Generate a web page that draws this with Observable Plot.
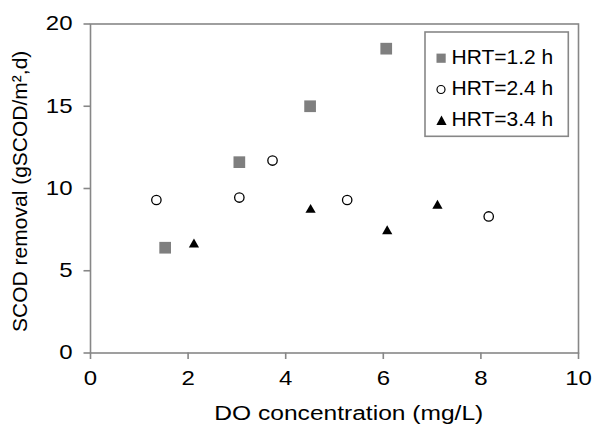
<!DOCTYPE html>
<html>
<head>
<meta charset="utf-8">
<script src="https://cdn.jsdelivr.net/npm/d3@7"></script>
<script src="https://cdn.jsdelivr.net/npm/@observablehq/plot@0.6"></script>
<style>
  html, body { margin: 0; padding: 0; background: #fff; }
  #wrap { position: relative; width: 593px; height: 425px; }
  #legend { position: absolute; left: 0; top: 0; pointer-events: none; }
</style>
</head>
<body>
<div id="wrap"></div>
<script>
const seriesNames = ["HRT=1.2 h", "HRT=2.4 h", "HRT=3.4 h"];
const hrt12X = [1.53, 3.05, 4.50, 6.06];
const hrt12Y = [6.4, 11.6, 15.0, 18.5];
const hrt24X = [1.35, 3.05, 3.73, 5.26, 8.16];
const hrt24Y = [9.3, 9.45, 11.7, 9.3, 8.3];
const hrt34X = [2.12, 4.51, 6.08, 7.11];
const hrt34Y = [6.6, 8.7, 7.4, 8.95];
const xTicks = [0, 2, 4, 6, 8, 10];
const yTicks = [0, 5, 10, 15, 20];
const xTitle = "DO concentration (mg/L)";
const yTitle = "SCOD removal (gSCOD/m\u00b2,d)";

const toRows = (xs, ys) => xs.map((x, i) => ({x, y: ys[i]}));
const sq = toRows(hrt12X, hrt12Y);
const ci = toRows(hrt24X, hrt24Y);
const tr = toRows(hrt34X, hrt34Y);

const FONT = "'Liberation Sans', Arial, sans-serif";
const axisColor = "#878787";
const chart = Plot.plot({
  width: 593,
  height: 425,
  marginLeft: 90,
  marginRight: 15,
  marginTop: 23.5,
  marginBottom: 72.5,
  style: {fontFamily: FONT, fontSize: "20px", color: "#000", background: "#fff"},
  x: {domain: [0, 10]},
  y: {domain: [0, 20]},
  marks: [
    Plot.frame({stroke: axisColor, strokeWidth: 1.6}),
    Plot.axisX({ticks: xTicks, tickSize: 6.5, tickPadding: 11.5, stroke: axisColor, strokeWidth: 1.6, fill: "#000", fontSize: 20, label: null}),
    Plot.axisY({ticks: yTicks, tickSize: 6.5, tickPadding: 11.5, stroke: axisColor, strokeWidth: 1.6, fill: "#000", fontSize: 20, label: null}),
    Plot.text([xTitle], {frameAnchor: "bottom", textAnchor: "middle", dx: 14.3, dy: 67, lineAnchor: "bottom", fontSize: 21, fill: "#000"}),
    Plot.text([yTitle], {frameAnchor: "left", textAnchor: "middle", rotate: -90, dx: -63.5, dy: 2.8, lineAnchor: "bottom", fontSize: 21, fill: "#000"}),
    Plot.dot(sq, {x: "x", y: "y", symbol: "square", r: 6.6, fill: "#7f7f7f", stroke: "none"}),
    Plot.dot(ci, {x: "x", y: "y", symbol: "circle", r: 4.7, fill: "#fff", stroke: "#000", strokeWidth: 1.3}),
    Plot.dot(tr, {x: "x", y: "y", symbol: "triangle", r: 3.8, fill: "#000", stroke: "none"})
  ]
});
const wrap = document.getElementById("wrap");
wrap.appendChild(chart);

// The reference's horizontal texts are drawn wider than the font's natural width
function stretchEl(t, k) {
  let tf = t.getAttribute("transform");
  if (!tf) {
    const x = parseFloat(t.getAttribute("x")) || 0, y = parseFloat(t.getAttribute("y")) || 0;
    t.removeAttribute("x"); t.removeAttribute("y");
    tf = `translate(${x},${y})`;
  }
  t.setAttribute("transform", tf + ` scale(${k},1)`);
}
chart.querySelectorAll('g[aria-label="x-axis tick label"] text').forEach(t => stretchEl(t, 1.2));
chart.querySelectorAll('g[aria-label="y-axis tick label"] text').forEach(t => stretchEl(t, 1.2));
chart.querySelectorAll("text").forEach(t => { if (t.textContent === xTitle) stretchEl(t, 1.17); });

// Legend (inset box, top right)
const lg = d3.select(wrap).append("svg").attr("id", "legend").attr("width", 593).attr("height", 425);
lg.append("rect").attr("x", 425).attr("y", 32).attr("width", 143.3).attr("height", 104.3)
  .attr("fill", "#fff").attr("stroke", axisColor).attr("stroke-width", 1.6);
const baselines = [63.7, 95, 126.3];
const markerDraw = [
  (g, cy) => g.append("rect").attr("x", 436.5).attr("y", cy - 4.6).attr("width", 9.2).attr("height", 9.2).attr("fill", "#7f7f7f"),
  (g, cy) => g.append("circle").attr("cx", 441).attr("cy", cy).attr("r", 4).attr("fill", "#fff").attr("stroke", "#000").attr("stroke-width", 1.2),
  (g, cy) => g.append("path").attr("d", `M441.5,${cy - 5.2}L446.6,${cy + 4.2}L436.4,${cy + 4.2}Z`).attr("fill", "#000")
];
seriesNames.forEach((name, i) => {
  const b = baselines[i];
  markerDraw[i](lg, b - 5.5);
  lg.append("text").attr("x", 451.5).attr("y", b).attr("font-family", FONT).attr("font-size", 21)
    .attr("fill", "#000").text(name);
});
</script>
</body>
</html>
